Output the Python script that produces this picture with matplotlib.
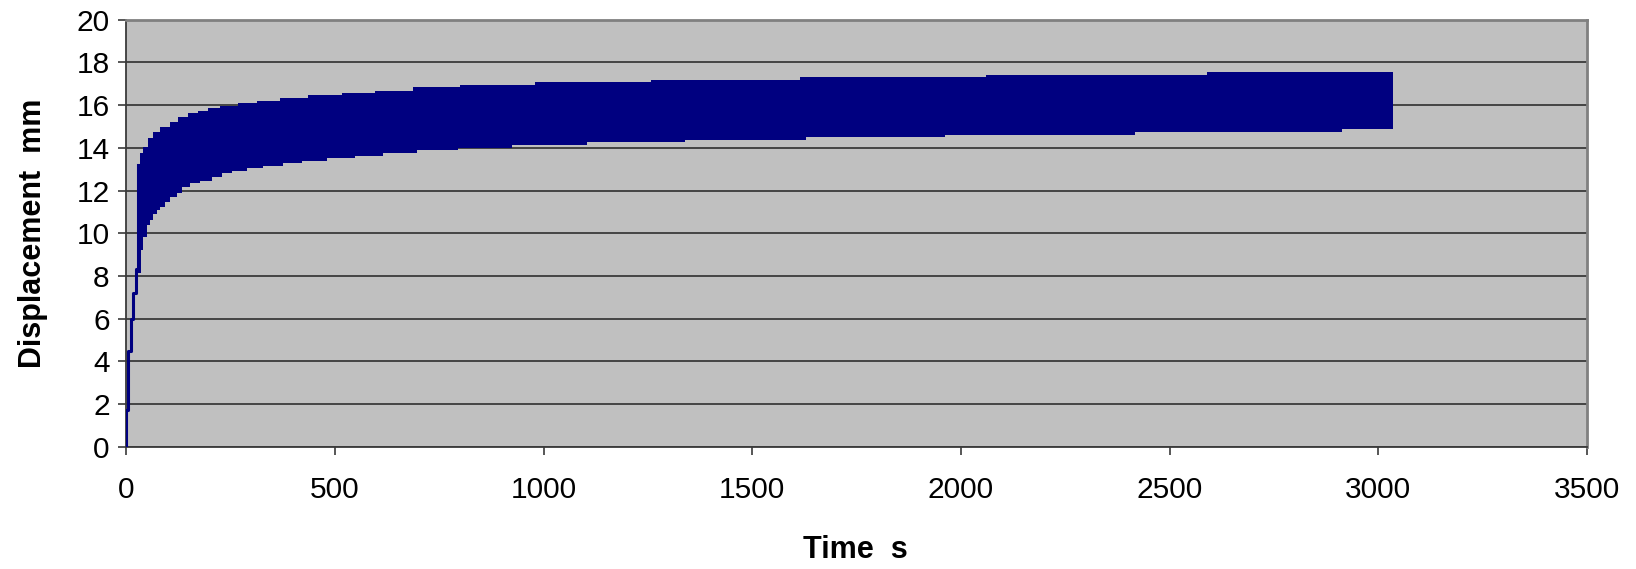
import matplotlib
matplotlib.use("Agg")
import numpy as np
import matplotlib.pyplot as plt

# early rise (step line before the signal starts to oscillate)
t_start = [0, 0, 4.8, 10.5, 16.8, 23.2, 28.8]
v_start = [0, 1.7, 4.5, 6.0, 7.2, 8.3, 8.3]

# upper envelope of the oscillating signal (step changes)
t_up = [28.8, 32.8, 40.8, 52.8, 64.7, 80.7, 104.7, 124.7, 148.7, 172.6,
        196.6, 224.5, 268.4, 312.3, 368.3, 436.1, 516, 595.9, 687.8, 800,
        979, 1257, 1614, 2059, 2590]
v_up = [13.2, 13.74, 14.05, 14.45, 14.76, 14.99, 15.23, 15.46, 15.62, 15.73,
        15.85, 15.96, 16.09, 16.21, 16.32, 16.48, 16.56, 16.68, 16.84, 16.94,
        17.07, 17.16, 17.32, 17.43, 17.55]

# lower envelope
t_lo = [28.8, 34.4, 40.8, 48.8, 56.8, 64.7, 72.7, 80.7, 92.7, 104.7,
        120.7, 132.7, 152.6, 176.6, 204.5, 228.5, 252.5, 288.5, 328.3, 376.2,
        420.3, 480.2, 548, 615.8, 695.8, 795.5, 923.4, 1103, 1338.6, 1628.5,
        1961.6, 2416.8, 2912.1]
v_lo = [8.13, 9.21, 9.84, 10.38, 10.62, 10.9, 11.09, 11.24, 11.48, 11.68,
        11.9, 12.18, 12.34, 12.46, 12.65, 12.81, 12.91, 13.04, 13.15, 13.28,
        13.4, 13.51, 13.63, 13.74, 13.9, 14.01, 14.13, 14.26, 14.37, 14.51,
        14.6, 14.74, 14.88]

t_end = 3034

navy = "#000080"

plt.rcParams["font.family"] = ["Liberation Sans", "DejaVu Sans"]

fig = plt.figure(figsize=(16.36, 5.69), dpi=100)
ax = fig.add_axes([0.0772, 0.2151, 0.8929, 0.7501])
ax.set_facecolor("#C0C0C0")

# step lookup of both envelopes on a common time grid
tg = np.union1d(np.union1d(t_up, t_lo), [t_end])
up = np.array(v_up)[np.searchsorted(t_up, tg, side="right") - 1]
lo = np.array(v_lo)[np.searchsorted(t_lo, tg, side="right") - 1]
ax.fill_between(tg, lo, up, step="post", color=navy, linewidth=0, zorder=3)
ax.plot(t_start, v_start, color=navy, lw=2.2, zorder=3, drawstyle="steps-post")
ax.plot([t_start[-1], t_start[-1]], [v_start[-1], v_up[0]], color=navy, lw=2.2, zorder=3)

ax.set_xlim(0, 3500)
ax.set_ylim(0, 20)
ax.set_xticks(np.arange(0, 3501, 500))
ax.set_yticks(np.arange(0, 21, 2))
ax.yaxis.grid(True, color="#3a3a3a", lw=1.3, zorder=1)
ax.set_axisbelow(True)

for s in ["top", "right"]:
    ax.spines[s].set_color("#808080")
    ax.spines[s].set_linewidth(2)
for s in ["left", "bottom"]:
    ax.spines[s].set_color("#3a3a3a")
    ax.spines[s].set_linewidth(1.3)

ax.tick_params(axis="both", direction="out", length=6, width=1.2,
               color="#3a3a3a", labelsize=21.5)
ax.tick_params(axis="y", pad=6)
ax.tick_params(axis="x", pad=15)

fig.text(0.020, 0.590, "Displacement  mm", rotation=90, ha="center", va="center",
         fontsize=22, fontweight="bold")
fig.text(0.523, 0.033, "Time  s", ha="center", va="center",
         fontsize=22, fontweight="bold")

fig.savefig("out.png", dpi=100)
